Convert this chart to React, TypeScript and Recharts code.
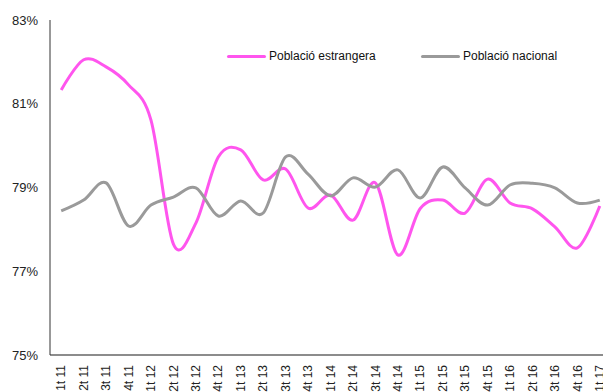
import React from 'react';
import { LineChart, Line, XAxis, YAxis } from 'recharts';

const categories = [
  '1t 11', '2t 11', '3t 11', '4t 11',
  '1t 12', '2t 12', '3t 12', '4t 12',
  '1t 13', '2t 13', '3t 13', '4t 13',
  '1t 14', '2t 14', '3t 14', '4t 14',
  '1t 15', '2t 15', '3t 15', '4t 15',
  '1t 16', '2t 16', '3t 16', '4t 16',
  '1t 17',
];

const estrangera = [
  81.33, 82.05, 81.88, 81.45,
  80.61, 77.65, 78.15, 79.73,
  79.9, 79.18, 79.44, 78.51,
  78.82, 78.22, 79.11, 77.39,
  78.5, 78.7, 78.39, 79.2,
  78.63, 78.49, 78.06, 77.56,
  78.56,
];

const nacional = [
  78.44, 78.7, 79.11, 78.08,
  78.58, 78.77, 78.99, 78.32,
  78.68, 78.39, 79.73, 79.32,
  78.8, 79.23, 79.01, 79.42,
  78.75, 79.49, 78.99, 78.58,
  79.06, 79.1, 78.99, 78.63,
  78.7,
];

const yTicks = [75, 77, 79, 81, 83];

const data = categories.map((c, i) => ({
  cat: c,
  estrangera: estrangera[i],
  nacional: nacional[i],
}));

// Cardinal spline (tension 0 => Catmull-Rom) curve factory, like d3's curveCardinal
function makeCardinal(tension: number) {
  const k = (1 - tension) / 6;
  return function (context: any) {
    const s: any = {
      _context: context,
      _k: k,
      _line: undefined as any,
      _point: 0,
      _x0: NaN, _x1: NaN, _x2: NaN, _y0: NaN, _y1: NaN, _y2: NaN,
    };
    const pt = (that: any, x: number, y: number) => {
      that._context.bezierCurveTo(
        that._x1 + that._k * (that._x2 - that._x0),
        that._y1 + that._k * (that._y2 - that._y0),
        that._x2 + that._k * (that._x1 - x),
        that._y2 + that._k * (that._y1 - y),
        that._x2,
        that._y2
      );
    };
    s.areaStart = function () { s._line = 0; };
    s.areaEnd = function () { s._line = NaN; };
    s.lineStart = function () {
      s._x0 = s._x1 = s._x2 = s._y0 = s._y1 = s._y2 = NaN;
      s._point = 0;
    };
    s.lineEnd = function () {
      switch (s._point) {
        case 2: s._context.lineTo(s._x2, s._y2); break;
        case 3: pt(s, s._x1, s._y1); break;
      }
      if (s._line || (s._line !== 0 && s._point === 1)) s._context.closePath();
      s._line = 1 - s._line;
    };
    s.point = function (x: number, y: number) {
      x = +x; y = +y;
      switch (s._point) {
        case 0:
          s._point = 1;
          s._line ? s._context.lineTo(x, y) : s._context.moveTo(x, y);
          break;
        case 1:
          s._point = 2;
          s._x1 = x; s._y1 = y;
          break;
        case 2:
          s._point = 3;
          pt(s, x, y);
          break;
        default:
          pt(s, x, y);
          break;
      }
      s._x0 = s._x1; s._x1 = s._x2; s._x2 = x;
      s._y0 = s._y1; s._y1 = s._y2; s._y2 = y;
    };
    return s;
  };
}

const curve = makeCardinal(0);

const PINK = '#FF55EE';
const GRAY = '#9A9A9A';
const FONT = '"Liberation Sans", Arial, sans-serif';

const XTick = (props: any) => {
  const { x, y, payload } = props;
  return (
    <text
      x={x}
      y={y}
      transform={`rotate(-90, ${x}, ${y})`}
      textAnchor="end"
      dy="0.35em"
      fontSize={12}
      fill="#222"
      fontFamily={FONT}
    >
      {payload.value}
    </text>
  );
};

const legendItems = [
  { label: 'Població estrangera', color: PINK, left: 227 },
  { label: 'Població nacional', color: GRAY, left: 421 },
];

const LegendBox = () => (
  <>
    {legendItems.map((it) => (
      <div
        key={it.label}
        style={{
          position: 'absolute',
          left: it.left,
          top: 47,
          height: 18,
          display: 'flex',
          alignItems: 'center',
          fontFamily: FONT,
          fontSize: 12,
          color: '#111',
          whiteSpace: 'nowrap',
        }}
      >
        <span
          style={{
            display: 'inline-block',
            width: 39,
            height: 3,
            background: it.color,
            borderRadius: 1.5,
            marginRight: 3,
          }}
        />
        {it.label}
      </div>
    ))}
  </>
);

export default function App() {
  return (
    <div style={{ position: 'absolute', left: 0, top: 0, width: 603, height: 392, overflow: 'hidden', background: '#fff' }}>
      <LineChart
        width={616}
        height={410}
        data={data}
        margin={{ top: 20, right: 5, bottom: 0, left: 0 }}
      >
        <XAxis
          dataKey="cat"
          scale="band"
          axisLine={{ stroke: '#8c8c8c', strokeWidth: 2 }}
          tickLine={false}
          tick={<XTick />}
          interval={0}
          height={55}
          tickMargin={0}
          tickSize={10}
        />
        <YAxis
          domain={[75, 83]}
          ticks={yTicks}
          tickFormatter={(v: number) => `${v}%`}
          width={50}
          axisLine={{ stroke: '#333', strokeWidth: 1 }}
          tickLine={false}
          tickSize={6}
          tickMargin={6}
          tick={{ fontSize: 13, fill: '#222', fontFamily: FONT }}
          allowDataOverflow
        />
        <Line
          dataKey="estrangera"
          type={curve as any}
          stroke={PINK}
          strokeWidth={3}
          dot={false}
          isAnimationActive={false}
        />
        <Line
          dataKey="nacional"
          type={curve as any}
          stroke={GRAY}
          strokeWidth={3}
          dot={false}
          isAnimationActive={false}
        />
      </LineChart>
      <LegendBox />
    </div>
  );
}
